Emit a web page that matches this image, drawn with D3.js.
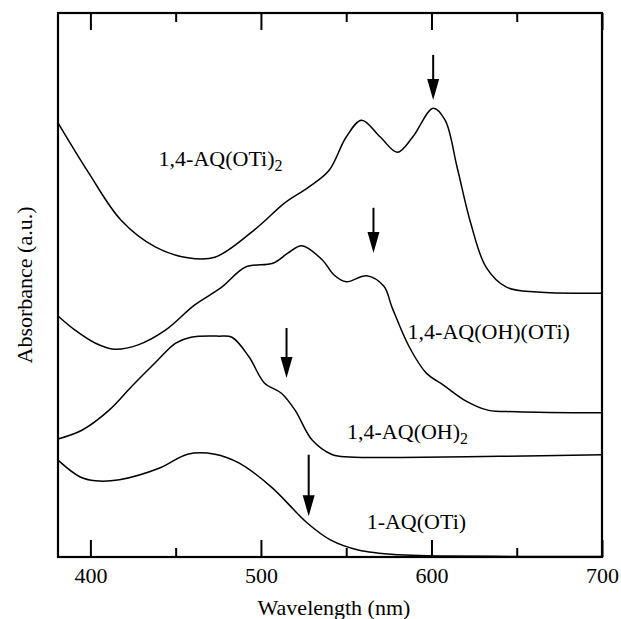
<!DOCTYPE html>
<html>
<head>
<meta charset="utf-8">
<script src="https://cdn.jsdelivr.net/npm/d3@7"></script>
<style>
  body { margin: 0; background: #fff; }
  text { font-family: "Liberation Serif", "Times New Roman", serif; fill: #000; }
</style>
</head>
<body>
<svg width="621" height="619"></svg>
<script>
// spectra (wavelength in nm, absorbance in arbitrary units)
var otiWl   = [381, 399, 418, 438, 457, 473, 496, 514, 528, 540, 550, 559, 570, 580, 589, 601, 608, 615, 623, 632, 644, 662, 700];
var otiAbs  = [0.798, 0.706, 0.619, 0.570, 0.550, 0.551, 0.601, 0.651, 0.680, 0.711, 0.772, 0.803, 0.772, 0.744, 0.772, 0.825, 0.803, 0.717, 0.614, 0.533, 0.496, 0.487, 0.485];

var ohOtiWl  = [381, 391, 403, 414, 428, 444, 461, 477, 491, 507, 516, 524, 536, 543, 550, 562, 572, 577, 587, 597, 607, 619, 633, 650, 700];
var ohOtiAbs = [0.443, 0.417, 0.393, 0.382, 0.390, 0.417, 0.463, 0.496, 0.533, 0.540, 0.559, 0.572, 0.546, 0.518, 0.506, 0.517, 0.498, 0.458, 0.386, 0.338, 0.316, 0.289, 0.270, 0.267, 0.265];

var ohWl  = [381, 395, 411, 424, 438, 450, 459, 475, 483, 493, 502, 512, 520, 530, 542, 552, 582, 640, 700];
var ohAbs = [0.217, 0.233, 0.270, 0.313, 0.357, 0.393, 0.404, 0.406, 0.404, 0.368, 0.320, 0.301, 0.270, 0.215, 0.188, 0.184, 0.183, 0.185, 0.188];

var monoWl  = [381, 394, 403, 417, 441, 457, 473, 487, 506, 527, 541, 557, 581, 604, 650, 700];
var monoAbs = [0.178, 0.147, 0.140, 0.142, 0.164, 0.189, 0.189, 0.173, 0.129, 0.063, 0.031, 0.013, 0.004, 0.002, 0.001, 0.001];

var seriesNames = ["1,4-AQ(OTi)", "1,4-AQ(OH)(OTi)", "1,4-AQ(OH)", "1-AQ(OTi)"];
var seriesSub   = ["2", "", "2", ""];
// label anchor (wavelength, absorbance at text baseline)
var labelWl  = [440, 586, 550.5, 562];
var labelAbs = [0.719, 0.401, 0.217, 0.051];

// arrows: wavelength, start and tip absorbance
var arrowWl   = [601, 566, 515, 528];
var arrowTop  = [0.923, 0.642, 0.421, 0.188];
var arrowTip  = [0.840, 0.559, 0.329, 0.075];

var majorTicks = [400, 500, 600, 700];
var minorTicks = [450, 550, 650];

var svg = d3.select("svg"),
    pLeft = 58, pRight = 602, pTop = 13, pBottom = 557;

var x = d3.scaleLinear().domain([381, 700]).range([pLeft, pRight]);
var y = d3.scaleLinear().domain([0, 1]).range([pBottom, pTop]);

var series = [
  d3.zip(otiWl, otiAbs),
  d3.zip(ohOtiWl, ohOtiAbs),
  d3.zip(ohWl, ohAbs),
  d3.zip(monoWl, monoAbs)
];

var line = d3.line()
    .x(function(d) { return x(d[0]); })
    .y(function(d) { return y(d[1]); })
    .curve(d3.curveCatmullRom.alpha(0.5));

svg.append("g")
  .selectAll("path")
  .data(series)
  .enter().append("path")
    .attr("d", line)
    .attr("fill", "none")
    .attr("stroke", "#000")
    .attr("stroke-width", 1.5);

// axes, ticks pointing inward
var bottomAxis = svg.append("g")
    .attr("transform", "translate(0," + pBottom + ")")
    .call(d3.axisBottom(x).tickValues(majorTicks).tickSizeInner(-17).tickSizeOuter(0).tickPadding(10).tickFormat(d3.format("d")));
svg.append("g")
    .attr("transform", "translate(0," + pBottom + ")")
    .call(d3.axisBottom(x).tickValues(minorTicks).tickSizeInner(-9).tickSizeOuter(0).tickFormat(""));
svg.append("g")
    .attr("transform", "translate(0," + pTop + ")")
    .call(d3.axisTop(x).tickValues(majorTicks).tickSizeInner(-17).tickSizeOuter(0).tickFormat(""));
svg.append("g")
    .attr("transform", "translate(0," + pTop + ")")
    .call(d3.axisTop(x).tickValues(minorTicks).tickSizeInner(-9).tickSizeOuter(0).tickFormat(""));

svg.selectAll(".domain").remove();
svg.selectAll(".tick line").attr("stroke", "#000").attr("stroke-width", 2);
bottomAxis.selectAll("text")
    .style("font-family", "'Liberation Serif', serif")
    .style("font-size", "22px");

svg.append("rect")
    .attr("x", pLeft)
    .attr("y", pTop)
    .attr("width", pRight - pLeft)
    .attr("height", pBottom - pTop)
    .attr("fill", "none")
    .attr("stroke", "#000")
    .attr("stroke-width", 2.2);

// arrows
var arrows = svg.append("g").selectAll("g")
  .data(arrowWl.map(function(w, i) { return {w: w, t: arrowTop[i], p: arrowTip[i]}; }))
  .enter().append("g");

arrows.append("line")
    .attr("x1", function(d) { return x(d.w); })
    .attr("x2", function(d) { return x(d.w); })
    .attr("y1", function(d) { return y(d.t); })
    .attr("y2", function(d) { return y(d.p) - 12; })
    .attr("stroke", "#000")
    .attr("stroke-width", 2);

arrows.append("path")
    .attr("d", function(d) {
      var cx = x(d.w), cy = y(d.p);
      return "M" + (cx - 6) + "," + (cy - 21) + "L" + (cx + 6) + "," + (cy - 21) + "L" + cx + "," + cy + "Z";
    })
    .attr("fill", "#000");

// series labels
var labels = svg.append("g").selectAll("text")
  .data(seriesNames)
  .enter().append("text")
    .attr("x", function(d, i) { return x(labelWl[i]); })
    .attr("y", function(d, i) { return y(labelAbs[i]); })
    .style("font-size", "22px")
    .text(function(d) { return d; });

labels.append("tspan")
    .attr("dy", 5)
    .style("font-size", "16px")
    .text(function(d, i) { return seriesSub[i]; });

svg.append("text")
    .attr("x", (pLeft + pRight) / 2 + 4)
    .attr("y", 615)
    .attr("text-anchor", "middle")
    .style("font-size", "22px")
    .text("Wavelength (nm)");

svg.append("text")
    .attr("transform", "translate(32," + ((pTop + pBottom) / 2) + ") rotate(-90)")
    .attr("text-anchor", "middle")
    .style("font-size", "22px")
    .text("Absorbance (a.u.)");
</script>
</body>
</html>
